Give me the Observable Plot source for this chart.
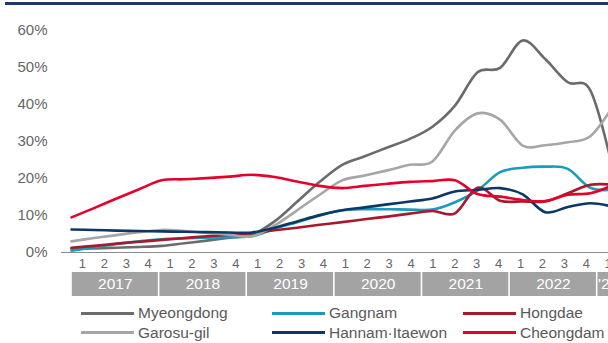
<!DOCTYPE html>
<html><head><meta charset="utf-8">
<script src="https://cdn.jsdelivr.net/npm/d3@7"></script>
<script src="https://cdn.jsdelivr.net/npm/@observablehq/plot@0.6"></script>
<style>
html,body{margin:0;padding:0;background:#fff;overflow:hidden;}
#wrap{position:relative;width:608px;height:343px;overflow:hidden;font-family:"Liberation Sans",Arial,sans-serif;}
#rule{position:absolute;left:5px;top:2px;width:603px;height:3px;background:#1f3864;}
.layer{position:absolute;left:0;width:620px;}
.layer svg{display:block;overflow:visible;max-width:none !important;}
#legend{position:absolute;left:81px;top:303.6px;display:grid;grid-template-columns:191px 191px 191px;grid-auto-rows:19.4px;font-size:15.5px;color:#595959;white-space:nowrap;}
.item{display:flex;align-items:center;}
.sw{width:53px;height:3px;margin-right:4px;flex:none;}
</style></head><body>
<div id="wrap">
  <div id="rule"></div>
  <div id="main" class="layer" style="top:0"></div>
  <div id="qrow" class="layer" style="top:255px"></div>
  <div id="yrow" class="layer" style="top:272px"></div>
  <div id="legend"></div>
</div>
<script>
// ---- data ----
const quarterLabels = ["1","2","3","4","1","2","3","4","1","2","3","4","1","2","3","4","1","2","3","4","1","2","3","4","1"];
const yearLabels = ["2017","2018","2019","2020","2021","2022","'23"];
const quartersPerYear = [4,4,4,4,4,4,1];
const seriesNames = ["Myeongdong","Gangnam","Hongdae","Garosu-gil","Hannam\u00B7Itaewon","Cheongdam"];
const seriesColors = ["#6b6b6b","#1a9bbb","#a6192e","#a6a6a6","#0c3866","#e4002b"];
const myeongdong = [1.0,1.1,1.3,1.5,1.8,2.5,3.2,4.0,4.8,8.4,13.7,19.1,23.7,26.0,28.4,30.7,34.0,39.7,48.7,49.9,57.3,52.3,46.0,43.8,22.5];
const gangnam    = [0.5,1.4,2.3,3.0,3.6,3.8,4.0,4.2,4.4,6.4,8.2,10.0,11.4,11.7,11.7,11.6,11.6,13.6,16.8,21.7,22.9,23.2,22.6,17.5,17.0];
const hongdae    = [1.3,1.8,2.4,2.9,3.4,3.9,4.4,4.8,5.2,6.0,6.7,7.5,8.2,9.0,9.7,10.5,11.2,10.6,17.5,14.0,13.8,13.8,16.0,18.3,18.3];
const garosugil  = [3.0,3.9,4.7,5.5,6.1,5.8,5.3,4.8,4.4,7.3,11.4,15.6,19.5,20.8,22.2,23.7,24.6,33.0,37.6,35.9,28.9,29.0,29.8,31.4,39.5];
const hannam     = [6.2,6.1,5.9,5.8,5.7,5.6,5.5,5.4,5.4,6.7,8.4,10.1,11.4,12.2,13.0,13.8,14.6,16.5,16.9,17.4,15.7,10.9,12.3,13.3,12.4];
const cheongdam  = [9.5,12.0,14.6,17.1,19.5,19.8,20.1,20.5,21.0,20.4,19.2,18.0,17.4,18.0,18.6,19.1,19.3,19.5,15.8,15.1,14.2,13.9,15.6,16.0,18.2];
const yTicks = [0,10,20,30,40,50,60];

// ---- build ----
const seriesValues = [myeongdong,gangnam,hongdae,garosugil,hannam,cheongdam];
const rows = seriesNames.flatMap((name,k)=>seriesValues[k].map((v,i)=>({name,i,v})));
const font = "Liberation Sans, Arial, sans-serif";

const main = Plot.plot({
  width:620, height:254, marginLeft:71, marginRight:7.6, marginTop:30, marginBottom:2,
  style:{fontFamily:font, background:"transparent", maxWidth:"none"},
  x:{domain:[0,quarterLabels.length-1], axis:null},
  y:{domain:[0,60], label:null, axis:null},
  color:{domain:seriesNames, range:seriesColors},
  marks:[
    Plot.axisY({ticks:yTicks, tickSize:0, tickPadding:24, tickFormat:d=>d+"%", fontSize:15, fill:"#666666", label:null}),
    Plot.ruleY([0], {stroke:"#8c8c8c", strokeWidth:1.2, insetLeft:-10}),
    ...seriesNames.map(n=>Plot.line(rows.filter(r=>r.name===n), {x:"i", y:"v", stroke:"name", curve:"cardinal", strokeWidth:2.6, strokeLinejoin:"round", strokeLinecap:"round"}))
  ]
});
document.getElementById("main").appendChild(main);

const qIdx = quarterLabels.map((d,i)=>({i,label:d}));
const qrow = Plot.plot({
  width:620, height:16, marginLeft:71, marginRight:1.4, marginTop:0, marginBottom:0,
  style:{fontFamily:font, background:"transparent", maxWidth:"none"},
  x:{domain:[-0.5,quarterLabels.length-0.5], axis:null},
  marks:[Plot.text(qIdx, {x:"i", text:"label", frameAnchor:"middle", fontSize:13, fill:"#666666"})]
});
document.getElementById("qrow").appendChild(qrow);

let start = 0;
const yearRows = yearLabels.map((y,k)=>{const r={year:y, x1:start-0.5, x2:start+quartersPerYear[k]-0.5}; start+=quartersPerYear[k]; return r;});
const yrow = Plot.plot({
  width:620, height:24, marginLeft:71, marginRight:1.4, marginTop:0, marginBottom:0,
  style:{fontFamily:font, background:"transparent", maxWidth:"none"},
  x:{domain:[-0.5,quarterLabels.length-0.5], axis:null},
  marks:[
    Plot.rect(yearRows, {x1:"x1", x2:"x2", fill:"#a3a3a3", insetLeft:0.8, insetRight:0.8}),
    Plot.text(yearRows, {x:d=>(d.x1+d.x2)/2, text:"year", frameAnchor:"middle", fontSize:15.5, fill:"#ffffff"})
  ]
});
document.getElementById("yrow").appendChild(yrow);

const leg = document.getElementById("legend");
seriesNames.forEach((n,k)=>{
  const it=document.createElement("div"); it.className="item";
  const sw=document.createElement("span"); sw.className="sw"; sw.style.background=seriesColors[k];
  const tx=document.createElement("span"); tx.textContent=n;
  it.appendChild(sw); it.appendChild(tx); leg.appendChild(it);
});
</script>
</body></html>
